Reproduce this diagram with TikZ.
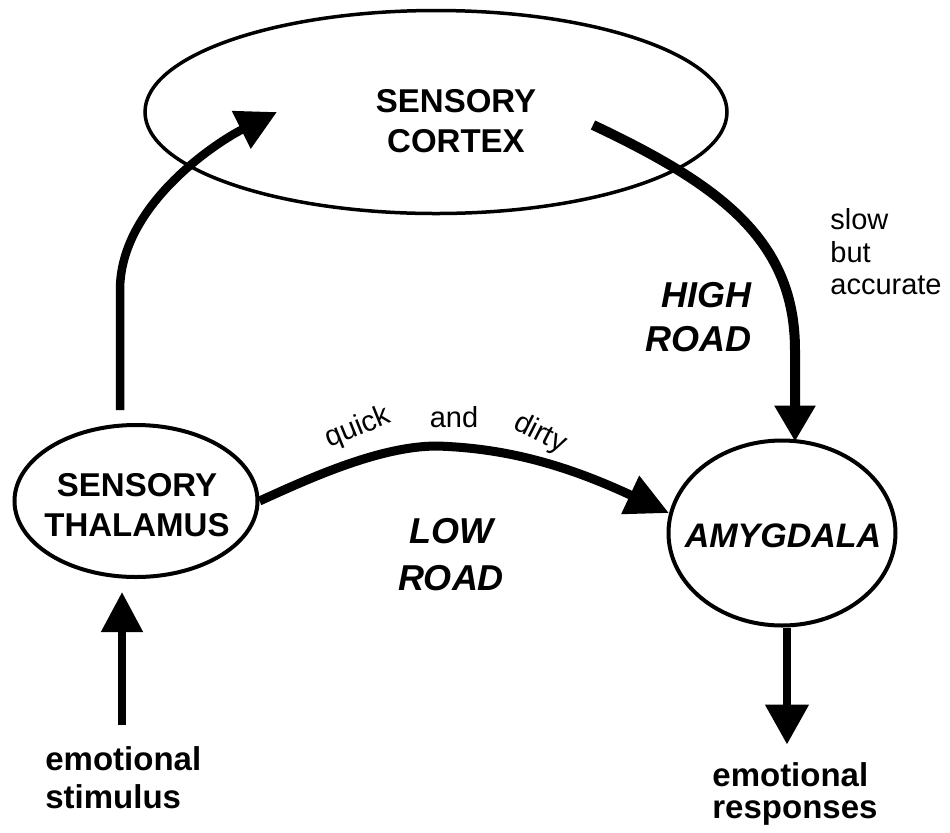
\documentclass[tikz,border=0pt]{standalone}
\usepackage{fontspec}
\setmainfont{Liberation Sans}
\usetikzlibrary{arrows.meta,shapes.geometric,calc}
\begin{document}
\begin{tikzpicture}[x=0.5pt,y=-0.5pt,
  ell/.style={draw, ellipse, inner sep=0pt, line width=2pt},
  boldlbl/.style={inner sep=0pt, align=center, font=\bfseries\fontsize{16.5}{20}\selectfont},
  roadlbl/.style={inner sep=0pt, font=\bfseries\itshape\fontsize{18}{22}\selectfont},
  smalllbl/.style={inner sep=0pt, font=\fontsize{14.5}{16.25}\selectfont},
  road/.style={line width=4.5pt, -{Triangle[length=20pt,width=20pt]}},
]
\useasboundingbox (0,0) rectangle (950,832);

% nodes
\node[ell, line width=1.75pt, minimum width=291pt, minimum height=101.5pt] (cortex) at (436,112) {};
\node[boldlbl] (cortexT) at (456,121) {SENSORY\\CORTEX};

\node[ell, minimum width=121.5pt, minimum height=76pt] (thal) at (136,501) {};
\node[boldlbl] (thalT) at (137,505) {SENSORY\\THALAMUS};

\node[ell, minimum width=113.5pt, minimum height=92.5pt] (amyg) at (782,533) {};
\node[inner sep=0pt, font=\bfseries\itshape\fontsize{17}{20}\selectfont] (amygT) at (783,536) {AMYGDALA};

% labels
\node[roadlbl, align=right, anchor=east] (high) at (752,317) {HIGH\\ROAD};
\node[roadlbl, align=center, font=\bfseries\itshape\fontsize{18}{23.5}\selectfont] (low) at (451,555) {LOW\\ROAD};
\node[smalllbl, align=left, anchor=west] (slow) at (830,252) {slow\\but\\accurate};
\node[smalllbl, rotate=22] (q1) at (358,428) {quick};
\node[smalllbl] (q2) at (454,417) {and};
\node[smalllbl, rotate=-27] (q3) at (540,434) {dirty};
\node[boldlbl, align=left, anchor=north west, font=\bfseries\fontsize{16.5}{19}\selectfont] (stim) at (45,746) {emotional\\stimulus};
\node[boldlbl, align=left, anchor=north west, font=\bfseries\fontsize{16.5}{16}\selectfont] (resp) at (712,762) {emotional\\responses};

% coordinates
\coordinate (tcA) at ($(thal.north)+(-16,-13)$);
\coordinate (tcB) at ($(cortex.center)+(-159,0)$);
\coordinate (hrA) at ($(cortex.center)+(157,13)$);
\coordinate (hrB) at ($(amyg.north)+(13,3)$);
\coordinate (stA) at ($(thal.south)+(-14,146)$);
\coordinate (stB) at ($(thal.south)+(-14,13)$);
\coordinate (rsA) at ($(amyg.south)+(5,0)$);
\coordinate (rsB) at ($(amyg.south)+(5,117)$);

% connectors
\draw[road, line width=4.25pt] (tcA) -- (120,290) .. controls (120,205) and (217,142) .. (tcB);
\draw[road, line width=5pt, -{Triangle[length=18pt,width=19.5pt]}] (hrA) .. controls (720,185) and (795,240) .. (795,350) -- (hrB);
\draw[road, -{Triangle[length=21.5pt,width=20pt]}] (thal.east) .. controls (310,478) and (380,446) .. (437,446) .. controls (500,448) and (560,462) .. (amyg.170);
\draw[road, line width=4pt] (stA) -- (stB);
\draw[road, line width=4pt, -{Triangle[length=20pt,width=21pt]}] (rsA) -- (rsB);
\end{tikzpicture}
\end{document}
